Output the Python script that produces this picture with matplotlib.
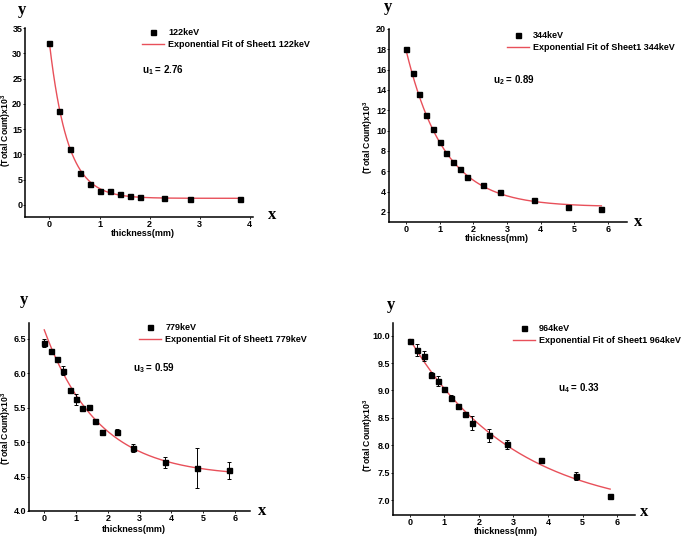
import numpy as np
import matplotlib
matplotlib.use('Agg')
import matplotlib.pyplot as plt

plt.rcParams['font.family'] = ['Liberation Sans', 'DejaVu Sans']
plt.rcParams['mathtext.fontset'] = 'custom'
plt.rcParams['mathtext.rm'] = 'Liberation Sans:bold'
plt.rcParams['mathtext.it'] = 'Liberation Sans:bold'
plt.rcParams['mathtext.bf'] = 'Liberation Sans:bold'

# thickness (mm) of the absorber stack
thick_122 = [0, 0.2, 0.4, 0.6, 0.8, 1.0, 1.2, 1.4, 1.6, 1.8, 2.3, 2.8, 3.8]
thick = [0, 0.2, 0.4, 0.6, 0.8, 1.0, 1.2, 1.4, 1.6, 1.8, 2.3, 2.8, 3.8, 4.8, 5.8]

# total counts (x10^3)
count_122 = [32.0, 18.6, 11.1, 6.3, 4.1, 2.8, 2.8, 2.1, 1.7, 1.5, 1.4, 1.2, 1.1]
count_344 = [18.0, 15.7, 13.6, 11.5, 10.2, 8.9, 7.8, 6.9, 6.2, 5.4, 4.6, 4.0, 3.2, 2.5, 2.3]
count_779 = [6.44, 6.33, 6.21, 6.04, 5.75, 5.62, 5.50, 5.51, 5.31, 5.14, 5.15, 4.92, 4.71, 4.62, 4.59]
err_779 = [0.06, 0.02, 0.015, 0.07, 0.03, 0.08, 0.015, 0.03, 0.015, 0.03, 0.04, 0.06, 0.08, 0.29, 0.12]
count_964 = [9.90, 9.74, 9.63, 9.28, 9.18, 9.02, 8.87, 8.71, 8.57, 8.41, 8.18, 8.02, 7.74, 7.44, 7.08]
err_964 = [0.02, 0.11, 0.09, 0.05, 0.09, 0.05, 0.04, 0.04, 0.015, 0.13, 0.12, 0.08, 0.03, 0.07, 0.04]

# exponential fit parameters y = y0 + A*exp(-u*x)
fit_122 = (1.3, 30.6, 2.76)
fit_344 = (2.5, 15.5, 0.89)
fit_779 = (4.50, 2.13, 0.59)
fit_964 = (6.73, 3.20, 0.33)

energies = ['122keV', '344keV', '779keV', '964keV']
u_labels = ['u$_1$ = 2.76', 'u$_2$ = 0.89', 'u$_3$ = 0.59', 'u$_4$ = 0.33']

W, H = 685, 538
RED = '#e8505a'
FS = 6.5

fig = plt.figure(figsize=(W / 100, H / 100), dpi=100, facecolor='white')


def px_axes(l, t, r, b):
    return fig.add_axes([l / W, 1 - b / H, (r - l) / W, (b - t) / H])


def ftext(x, y, s, **kw):
    fig.text(x / W, 1 - y / H, s, **kw)


panels = [
    # x, y, err, fit, box(l,t,r,b), xlim, ylim, yticks, fmt, xticks,
    # legend xy, u xy, "y" xy, "x" xy, xlabel xy, ylabel xy
    (thick_122, count_122, None, fit_122, (25, 28, 253, 217), (-0.49, 4.07), (-2.4, 35),
     np.arange(0, 36, 5), '%d', [0, 1, 2, 3, 4], (142, 28), (142, 70), (22, 10), (272, 215), (143, 234), (6, 130)),
    (thick, count_344, None, fit_344, (389, 29, 627, 222), (-0.5, 6.56), (1.0, 20.0),
     np.arange(2, 21, 2), '%d', [0, 1, 2, 3, 4, 5, 6], (507, 31), (493, 80), (388, 7), (638, 222), (497, 239), (368, 137)),
    (thick, count_779, err_779, fit_779, (29, 323, 250, 511), (-0.48, 6.47), (4.0, 6.73),
     np.arange(4.0, 6.6, 0.5), '%.1f', [0, 1, 2, 3, 4, 5, 6], (139, 323), (133, 368), (24, 300), (262, 511), (134, 529), (6, 428)),
    (thick, count_964, err_964, fit_964, (393, 323, 635, 515), (-0.49, 6.52), (6.73, 10.23),
     np.arange(7.0, 10.1, 0.5), '%.1f', [0, 1, 2, 3, 4, 5, 6], (513, 324), (558, 388), (391, 305), (644, 512), (506, 532), (368, 435)),
]

for i, (xs, ys, errs, fit, box, xlim, ylim, yticks, yfmt, xticks,
        leg_xy, u_xy, y_xy, x_xy, xl_xy, yl_xy) in enumerate(panels):
    ax = px_axes(*box)
    ax.set_xlim(*xlim)
    ax.set_ylim(*ylim)
    for side in ('top', 'right'):
        ax.spines[side].set_visible(False)
    for side in ('left', 'bottom'):
        ax.spines[side].set_linewidth(1.1)
    ax.set_xticks(xticks)
    ax.set_yticks(yticks)
    ax.set_yticklabels([yfmt % v for v in yticks])
    ax.tick_params(length=1.5, width=0.6, labelsize=FS)
    ax.tick_params(axis='x', pad=0.8)
    ax.tick_params(axis='y', pad=0.5)
    for lab in ax.get_xticklabels() + ax.get_yticklabels():
        lab.set_fontweight('bold')

    y0, A, u = fit
    xf = np.linspace(0, xs[-1], 200)
    line, = ax.plot(xf, y0 + A * np.exp(-u * xf), color=RED, lw=1.0, zorder=2)
    if errs is not None:
        ax.errorbar(xs, ys, yerr=errs, fmt='none', ecolor='black',
                    elinewidth=0.7, capsize=1.5, capthick=0.7, zorder=3)
    pts, = ax.plot(xs, ys, 's', color='black', ms=3.6, zorder=4)

    fig.legend([pts, line], [energies[i], 'Exponential Fit of Sheet1 ' + energies[i]],
               loc='upper left', bbox_to_anchor=(leg_xy[0] / W, 1 - leg_xy[1] / H),
               frameon=False, borderpad=0, borderaxespad=0, handlelength=2.4,
               handletextpad=0.5, labelspacing=0.35,
               prop={'size': FS, 'weight': 'bold'})

    ftext(*u_xy, u_labels[i], fontsize=FS + 0.5, fontweight='bold', va='center')
    ftext(*y_xy, 'y', fontsize=12, fontweight='bold', family='Liberation Serif',
          ha='center', va='center')
    ftext(*x_xy, 'x', fontsize=12, fontweight='bold', family='Liberation Serif',
          ha='center', va='center')
    ftext(*xl_xy, 'thickness(mm)', fontsize=FS, fontweight='bold',
          ha='center', va='center')
    ftext(*yl_xy, '(Total Count)x10$^3$', fontsize=6.2, fontweight='bold',
          ha='center', va='center', rotation=90)

fig.savefig('out.png', dpi=100, facecolor='white')
